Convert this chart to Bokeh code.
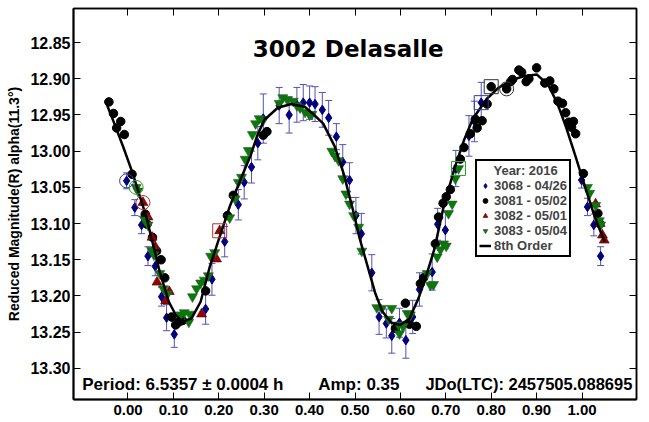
import numpy as np
from bokeh.plotting import figure
from bokeh.models import (ColumnDataSource, Whisker, TeeHead, Label, Legend, LegendItem,
                          LinearAxis, FixedTicker, PrintfTickFormatter, Range1d)
from bokeh.embed import file_html
from bokeh.resources import INLINE

# ---------------- data (phase, reduced magnitude) ----------------
x_ticks = [0.0, 0.1, 0.2, 0.3, 0.4, 0.5, 0.6, 0.7, 0.8, 0.9, 1.0]
y_ticks = [12.85, 12.90, 12.95, 13.00, 13.05, 13.10, 13.15, 13.20, 13.25, 13.30]

# 3068 - 04/26 (with errors)
s3068_phase = [-0.003, 0.015, 0.030, 0.044, 0.060, 0.074, 0.085, 0.102, 0.171, 0.185,
               0.213, 0.243, 0.256, 0.272, 0.286, 0.298, 0.333, 0.355, 0.372, 0.386,
               0.400, 0.412, 0.428, 0.442, 0.459, 0.473, 0.488, 0.502, 0.514, 0.537,
               0.553, 0.569, 0.581, 0.598, 0.612, 0.627, 0.642, 0.670, 0.682, 0.699,
               0.722, 0.751, 0.763, 0.778, 0.999, 1.012, 1.026, 1.041]
s3068_mag = [13.041, 13.078, 13.102, 13.145, 13.159, 13.201, 13.230, 13.253, 13.218, 13.177,
             13.125, 13.074, 13.043, 13.022, 12.989, 12.955, 12.937, 12.950, 12.936, 12.933,
             12.933, 12.935, 12.943, 12.954, 12.980, 13.015, 13.040, 13.089, 13.114, 13.168,
             13.229, 13.238, 13.255, 13.237, 13.261, 13.229, 13.191, 13.167, 13.101, 13.109,
             13.024, 12.979, 12.959, 12.933, 13.040, 13.077, 13.102, 13.145]
s3068_err = [0.011, 0.011, 0.012, 0.013, 0.013, 0.013, 0.018, 0.018, 0.021, 0.022,
             0.021, 0.021, 0.023, 0.022, 0.023, 0.034, 0.025, 0.025, 0.024, 0.025,
             0.023, 0.024, 0.024, 0.024, 0.018, 0.024, 0.024, 0.025, 0.028, 0.025,
             0.024, 0.020, 0.024, 0.020, 0.025, 0.023, 0.023, 0.025, 0.022, 0.025,
             0.025, 0.028, 0.028, 0.028, 0.011, 0.012, 0.015, 0.013]

# 3081 - 05/02
s3081_phase = [-0.042, -0.032, -0.016, -0.025, -0.008, 0.009, 0.038, 0.042, 0.054, 0.063,
               0.073, 0.081, 0.096, 0.105, 0.112, 0.120, 0.171, 0.219, 0.232, 0.298,
               0.306, 0.589, 0.611, 0.620, 0.635, 0.644, 0.651, 0.677, 0.684, 0.694,
               0.701, 0.710, 0.732, 0.740, 0.754, 0.765, 0.769, 0.780, 0.791, 0.800,
               0.834, 0.843, 0.847, 0.861, 0.867, 0.877, 0.883, 0.900, 0.918, 0.929,
               0.938, 0.947, 0.957, 0.964, 0.971, 0.981, 0.977, 0.986, 1.003, 1.035,
               1.039]
s3081_mag = [12.932, 12.948, 12.959, 12.968, 12.977, 13.032, 13.087, 13.101, 13.119, 13.138,
             13.150, 13.175, 13.229, 13.240, 13.236, 13.234, 13.193, 13.089, 13.061, 12.978,
             12.973, 13.245, 13.210, 13.239, 13.242, 13.183, 13.175, 13.128, 13.091, 13.072,
             13.063, 13.053, 13.011, 12.995, 12.976, 12.956, 12.968, 12.958, 12.935, 12.911,
             12.914, 12.904, 12.901, 12.888, 12.891, 12.904, 12.900, 12.885, 12.906, 12.903,
             12.914, 12.931, 12.934, 12.947, 12.960, 12.959, 12.967, 12.976, 13.031, 13.086,
             13.100]

# 3082 - 05/01
s3082_phase = [0.033, 0.044, 0.053, 0.060, 0.064, 0.083, 0.091, 0.162, 0.195, 0.202,
               1.030, 1.040, 1.045, 1.049]
s3082_mag = [13.071, 13.091, 13.119, 13.132, 13.181, 13.207, 13.194, 13.225, 13.149, 13.110,
             13.073, 13.100, 13.116, 13.123]

# 3083 - 05/04
s3083_phase = [0.018, 0.022, 0.037, 0.044, 0.052, 0.057, 0.070, 0.078, 0.087, 0.116,
               0.124, 0.134, 0.136, 0.142, 0.151, 0.160, 0.168, 0.177, 0.182, 0.191,
               0.224, 0.236, 0.243, 0.250, 0.258, 0.265, 0.274, 0.281, 0.289, 0.297,
               0.333, 0.341, 0.351, 0.364, 0.372, 0.379, 0.390, 0.400, 0.405, 0.449,
               0.456, 0.464, 0.473, 0.480, 0.488, 0.497, 0.508, 0.515, 0.548, 0.559,
               0.574, 0.581, 0.596, 0.598, 0.606, 0.615, 0.622, 0.659, 0.666, 0.673,
               0.681, 0.688, 0.695, 0.701, 0.706, 0.714, 0.721, 0.728, 1.012, 1.017,
               1.030, 1.038, 1.041]
s3083_mag = [13.050, 13.055, 13.095, 13.102, 13.137, 13.143, 13.169, 13.190, 13.197, 13.226,
             13.223, 13.236, 13.225, 13.201, 13.190, 13.182, 13.178, 13.172, 13.145, 13.140,
             13.092, 13.066, 13.043, 13.036, 13.011, 12.999, 12.977, 12.962, 12.955, 12.958,
             12.934, 12.926, 12.929, 12.931, 12.937, 12.940, 12.946, 12.950, 12.949, 13.000,
             13.007, 13.013, 13.038, 13.059, 13.073, 13.089, 13.105, 13.138, 13.216, 13.217,
             13.232, 13.217, 13.240, 13.252, 13.242, 13.224, 13.226, 13.169, 13.185, 13.184,
             13.146, 13.136, 13.128, 13.131, 13.086, 13.073, 13.038, 13.024, 13.050, 13.058,
             13.075, 13.096, 13.102]

# 8th order Fourier fit
fit_phase = [-0.05, -0.03, -0.01, 0.01, 0.04, 0.07, 0.09, 0.105, 0.12, 0.14, 0.16, 0.18,
             0.20, 0.225, 0.25, 0.27, 0.285, 0.30, 0.33, 0.36, 0.39, 0.41, 0.43, 0.455,
             0.475, 0.495, 0.51, 0.53, 0.545, 0.56, 0.58, 0.60, 0.62, 0.64, 0.655, 0.675,
             0.695, 0.72, 0.74, 0.76, 0.79, 0.815, 0.845, 0.87, 0.90, 0.925, 0.945, 0.965,
             0.985, 1.005, 1.025, 1.04, 1.05]
fit_mag = [12.930, 12.962, 12.995, 13.030, 13.090, 13.167, 13.208, 13.226, 13.236, 13.231,
           13.208, 13.160, 13.122, 13.075, 13.036, 13.006, 12.978, 12.957, 12.940, 12.935,
           12.939, 12.950, 12.962, 12.993, 13.031, 13.080, 13.120, 13.164, 13.197, 13.221,
           13.237, 13.240, 13.231, 13.203, 13.176, 13.135, 13.077, 13.022, 12.985, 12.955,
           12.928, 12.913, 12.902, 12.897, 12.894, 12.908, 12.933, 12.967, 13.006, 13.046,
           13.085, 13.110, 13.125]

# session start (circled) and end (boxed) point indices
circled = {"3068": 0, "3081": 40, "3082": 0, "3083": 0}
boxed = {"3068": 43, "3081": 39, "3082": 9, "3083": 67}

title_text = "3002 Delasalle"
period_text = "Period: 6.5357 \u00b1 0.0004 h"
amp_text = "Amp: 0.35"
jd_text = "JDo(LTC): 2457505.088695"
y_label = "Reduced Magnitude(R) alpha(11.3\u00b0)"
legend_title = "Year: 2016"
legend_labels = ["3068 - 04/26", "3081 - 05/02", "3082 - 05/01", "3083 - 05/04", "8th Order"]

# ---------------- figure ----------------
FONT = "Liberation Sans"
p = figure(width=648, height=421, output_backend="svg", toolbar_location=None,
           x_range=Range1d(-0.12, 1.12), y_range=Range1d(13.343, 12.803),
           min_border_left=73, min_border_right=12, min_border_top=8, min_border_bottom=22,
           x_axis_location=None, y_axis_location=None)
p.grid.visible = False
p.outline_line_color = "black"
p.outline_line_width = 1.5
p.background_fill_color = "white"
p.border_fill_color = "white"

def style_axis(ax, ticks, show_labels, size="15px"):
    ax.ticker = FixedTicker(ticks=ticks)
    ax.formatter = PrintfTickFormatter(format="%.2f")
    ax.axis_line_color = "black"
    ax.axis_line_width = 2
    ax.major_tick_in = 7
    ax.major_tick_out = 0
    ax.major_tick_line_width = 1
    ax.minor_tick_line_color = None
    ax.major_label_text_font = FONT
    ax.major_label_text_font_style = "bold"
    if show_labels:
        ax.major_label_text_color = "black"
        ax.major_label_text_font_size = size
    else:
        ax.major_label_text_color = None
        ax.major_label_text_font_size = "0px"
        ax.major_label_standoff = 0

xb = LinearAxis()
style_axis(xb, x_ticks, True, "15px")
xb.major_label_standoff = 5
p.add_layout(xb, "below")
xa = LinearAxis()
style_axis(xa, x_ticks, False)
xa.axis_line_width = 1.5
p.add_layout(xa, "above")

yl = LinearAxis(axis_label=y_label)
style_axis(yl, y_ticks, True, "16px")
yl.major_label_standoff = 3
yl.axis_label_text_font = FONT
yl.axis_label_text_font_style = "bold"
yl.axis_label_text_font_size = "14px"
yl.axis_label_text_color = "black"
yl.axis_label_standoff = 5
p.add_layout(yl, "left")
yr = LinearAxis()
style_axis(yr, y_ticks, False)
yr.axis_line_width = 1.5
p.add_layout(yr, "right")

# error bars for 3068
ph = np.array(s3068_phase); mg = np.array(s3068_mag); er = np.array(s3068_err)
err_src = ColumnDataSource(dict(base=ph, upper=mg + er, lower=mg - er))
ebar_col = "#5252b5"
wh = Whisker(source=err_src, base="base", upper="upper", lower="lower", dimension="height",
             line_color=ebar_col, line_width=1,
             upper_head=TeeHead(size=7, line_color=ebar_col, line_width=1),
             lower_head=TeeHead(size=7, line_color=ebar_col, line_width=1))
p.add_layout(wh)

r_blue = p.scatter(s3068_phase, s3068_mag, marker="diamond", size=9.5,
                   fill_color="#000080", line_color="#000080")
r_black = p.scatter(s3081_phase, s3081_mag, marker="circle", size=8.5,
                    fill_color="black", line_color="black")
r_red = p.scatter(s3082_phase, s3082_mag, marker="triangle", size=10,
                  fill_color="#990000", line_color="#4d0000", line_width=0.6)
r_green = p.scatter(s3083_phase, s3083_mag, marker="inverted_triangle", size=10,
                    fill_color="#008000", line_color="#3a4a3a", line_width=0.6)
r_fit = p.line(fit_phase, fit_mag, line_color="black", line_width=2.5)

series = {"3068": (s3068_phase, s3068_mag, "#3c3ca0"),
          "3081": (s3081_phase, s3081_mag, "#333333"),
          "3082": (s3082_phase, s3082_mag, "#b03030"),
          "3083": (s3083_phase, s3083_mag, "#30a030")}
for k, (xs, ys, c) in series.items():
    i = circled[k]
    p.scatter([xs[i]], [ys[i]], marker="circle", size=14, fill_color=None,
              line_color=c, line_width=1)
    j = boxed[k]
    p.scatter([xs[j]], [ys[j]], marker="square", size=14, fill_color=None,
              line_color=c, line_width=1)

# texts
p.add_layout(Label(x=0.485, y=12.859, text=title_text, text_align="center",
                   text_baseline="alphabetic", text_font="DejaVu Sans",
                   text_font_style="bold", text_font_size="23px", text_color="black"))
for tx, xx, fs in [(period_text, -0.1007, "17px"), (amp_text, 0.419, "17px"),
                   (jd_text, 0.655, "16.5px")]:
    p.add_layout(Label(x=xx, y=13.322, text=tx, text_align="left",
                       text_baseline="alphabetic", text_font=FONT,
                       text_font_style="bold", text_font_size=fs, text_color="black"))

renderers = [r_blue, r_black, r_red, r_green, r_fit]
lg = Legend(items=[LegendItem(label=l, renderers=[r]) for l, r in zip(legend_labels, renderers)],
            title="\u00a0\u00a0\u00a0\u00a0" + legend_title, location=(402, 142))
lg.title_text_font = FONT
lg.title_text_font_style = "bold"
lg.title_text_font_size = "13px"
lg.title_text_line_height = 1.0
lg.title_standoff = 0
lg.label_text_font = FONT
lg.label_text_font_style = "bold"
lg.label_text_font_size = "13px"
lg.label_text_line_height = 1.0
lg.label_height = 13
lg.glyph_height = 13
lg.glyph_width = 12
lg.label_standoff = 3
lg.spacing = 0
lg.padding = 2
lg.margin = 0
lg.border_line_color = "black"
lg.border_line_alpha = 1.0
lg.border_line_width = 2
lg.background_fill_alpha = 1
p.add_layout(lg)

open("out.html", "w").write(file_html(p, INLINE))
